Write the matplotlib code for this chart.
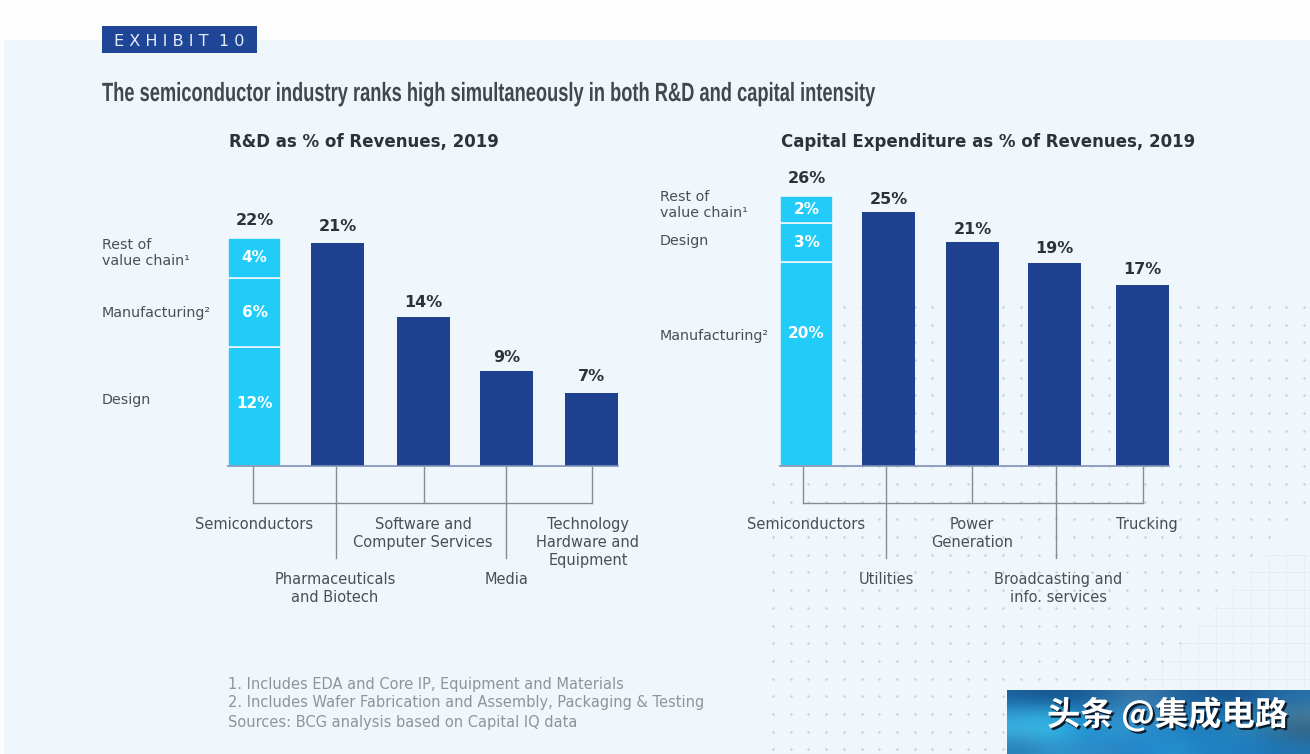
import matplotlib
matplotlib.use("Agg")
import matplotlib.pyplot as plt
import matplotlib.patheffects as pe
from matplotlib.colors import to_rgb
from matplotlib.transforms import Affine2D
import numpy as np

# data (bar heights are what is drawn, labels what is printed)
rd_stack_names = ["Design", "Manufacturing²", "Rest of\nvalue chain¹"]
rd_stack_values = [11.2, 6.5, 3.7]
rd_stack_labels = ["12%", "6%", "4%"]
rd_other_values = [21.0, 14.0, 8.9, 6.9]
rd_top_labels = ["22%", "21%", "14%", "9%", "7%"]
rd_categories = ["Semiconductors", "Pharmaceuticals\nand Biotech", "Software and\nComputer Services",
                 "Media", "Technology\nHardware and\nEquipment"]

capex_stack_names = ["Manufacturing²", "Design", "Rest of\nvalue chain¹"]
capex_stack_values = [20.1, 3.8, 2.7]
capex_stack_labels = ["20%", "3%", "2%"]
capex_other_values = [25.0, 22.0, 20.0, 17.8]
capex_top_labels = ["26%", "25%", "21%", "19%", "17%"]
capex_categories = ["Semiconductors", "Utilities", "Power\nGeneration",
                    "Broadcasting and\ninfo. services", "Trucking"]

footnotes = ["1. Includes EDA and Core IP, Equipment and Materials",
             "2. Includes Wafer Fabrication and Assembly, Packaging & Testing",
             "Sources: BCG analysis based on Capital IQ data"]

# colours
BACK = "#f0f7fc"
DARK = "#1f4290"
LIGHT = "#22ccf9"
LABEL = "#4b4f55"
BOLD = "#2e3236"
NOTE = "#8d949b"
BRACKET = "#868c93"

W, H = 1310, 754
fig = plt.figure(figsize=(W / 100, H / 100), dpi=100, facecolor="#fdfdfe")


class NarrowText(pe.AbstractPathEffect):
    # no condensed font is installed, so squeeze the title around its left edge
    def __init__(self, x0, factor):
        self.x0 = x0
        self.factor = factor

    def draw_path(self, renderer, gc, tpath, affine, rgbFace=None):
        squeeze = Affine2D().translate(-self.x0, 0).scale(self.factor, 1).translate(self.x0, 0)
        renderer.draw_path(gc, tpath, affine + squeeze, rgbFace)


# full figure axes in pixels, for the background and all the loose text
bg = fig.add_axes([0, 0, 1, 1])
bg.set_xlim(0, W)
bg.set_ylim(H, 0)
bg.axis("off")
bg.add_patch(plt.Rectangle((4, 40), W - 4, H - 40, color=BACK, lw=0, zorder=0))

# dotted background, fading into a fine grid at the lower right
dot_x = np.arange(773, W, 17.7)
dot_y = np.arange(307, H, 17.7)
xs, ys = [], []
for y in dot_y:
    for x in dot_x:
        if y < 480 and x < 840:
            continue
        if x + 0.9 * y > 1760:
            continue
        xs.append(x)
        ys.append(y)
bg.scatter(xs, ys, s=3.2, color="#c6d2da", lw=0, zorder=1)
for x in dot_x[dot_x > 1130]:
    bg.plot([x, x], [max(555, (1760 - x) / 0.9), 690], color="#e3edf3", lw=0.6, zorder=1)
for y in dot_y[dot_y > 550]:
    bg.plot([max(1130, 1760 - 0.9 * y), W], [y, y], color="#e3edf3", lw=0.6, zorder=1)

# exhibit tag and titles
bg.add_patch(plt.Rectangle((102, 26), 155, 27, color="#1f4596", lw=0, zorder=2))
bg.text(114, 41, "E X H I B I T  1 0", color="#e4ecf6", fontsize=11.6, va="center", zorder=3)
bg.text(102, 94, "The semiconductor industry ranks high simultaneously in both R&D and capital intensity",
        fontsize=19, weight="bold", color="#43474b", va="center", family="Liberation Sans",
        path_effects=[NarrowText(102, 0.693)])
bg.text(364, 142, "R&D as % of Revenues, 2019", fontsize=12, weight="bold", color=BOLD, ha="center", va="center")
bg.text(988, 142, "Capital Expenditure as % of Revenues, 2019", fontsize=12, weight="bold", color=BOLD,
        ha="center", va="center")


def draw_panel(first_x, scale, offsets, stack_values, stack_labels, label_shift, other_values, top_labels, gaps):
    # one axes per panel, baseline at y=466 px, one category step is 84 px
    step = 84
    ymax = 31
    ax = fig.add_axes([(first_x - step) / W, (H - 466) / H, step * 6 / W, ymax * scale / H])
    ax.set_xlim(-1, 5)
    ax.set_ylim(0, ymax)
    ax.axis("off")
    ax.patch.set_alpha(0)
    width = 53 / step
    pos = np.arange(5) + np.array(offsets)

    bottom = 0
    for val, lab, shift in zip(stack_values, stack_labels, label_shift):
        ax.bar(pos[0], val, width, bottom=bottom, color=LIGHT, edgecolor=BACK, lw=1.2, zorder=2)
        ax.text(pos[0], bottom + val / 2 + shift, lab, color="white", fontsize=11, weight="bold",
                ha="center", va="center", zorder=3)
        bottom += val
    ax.bar(pos[1:], other_values, width, color=DARK, zorder=2)
    ax.plot([pos[0] - width / 2, pos[4] + width / 2], [0, 0], color="#7d90b6", lw=1.2, zorder=3, clip_on=False)

    tops = [bottom] + list(other_values)
    for p, t, lab, gap in zip(pos, tops, top_labels, gaps):
        ax.annotate(lab, (p, t), xytext=(0, gap), textcoords="offset points", ha="center", va="center",
                    fontsize=11.5, weight="bold", color=BOLD)
    return ax


draw_panel(254.5, 10.64, [0, -0.01, 0.01, 0, 0.01], rd_stack_values, rd_stack_labels, [0.3, 0, 0],
           rd_other_values, rd_top_labels, [12.5, 11.5, 10.8, 10, 11.5])
draw_panel(806.5, 10.16, [0, -0.02, -0.02, -0.05, 0], capex_stack_values, capex_stack_labels, [3.0, 0, 0],
           capex_other_values, capex_top_labels, [12.2, 9.2, 9.4, 10.5, 11.5])


def bracket(tick_x, long_ticks):
    bg.plot([tick_x[0], tick_x[-1]], [503, 503], color=BRACKET, lw=1, zorder=2)
    for i, x in enumerate(tick_x):
        bg.plot([x, x], [467, 558 if i in long_ticks else 503], color=BRACKET, lw=1, zorder=2)


bracket([253, 336, 424, 506, 592], (1, 3))
bracket([803, 886, 972, 1056, 1143], (1, 3))

# category labels under the brackets
for lab, x, y in zip(rd_categories, [254, 335, 423, 507, 588], [524, 579, 524, 579, 524]):
    bg.text(x, y - 7, lab, fontsize=10.5, color=LABEL, ha="center", va="top", linespacing=1.25)
for lab, x, y in zip(capex_categories, [806, 886, 972, 1058, 1147], [524, 579, 524, 579, 524]):
    bg.text(x, y - 7, lab, fontsize=10.5, color=LABEL, ha="center", va="top", linespacing=1.25)

# names of the stacked parts
for lab, y in zip(rd_stack_names, [400, 313, 253]):
    bg.text(102, y, lab, fontsize=10.3, color=LABEL, va="center", linespacing=1.25)
for lab, y in zip(capex_stack_names, [336, 241, 205]):
    bg.text(660, y, lab, fontsize=10.3, color=LABEL, va="center", linespacing=1.25)

for line, y in zip(footnotes, [685, 703, 722]):
    bg.text(228, y, line, fontsize=10.55, color=NOTE, va="center")

# watermark box, blurred blue blotches
blotches = [["#1a5f9c", "#14528c", "#1a5a96", "#2b6ea6", "#3c79a8", "#2465a0", "#1a5a94", "#17548e", "#1c62a0", "#2470aa"],
            ["#2f9fd6", "#2cb0e2", "#1f83c4", "#2f8cc6", "#3b90c6", "#2580bd", "#1f74b2", "#2277ae", "#2c7aa8", "#4a7e9e"],
            ["#3fb4e2", "#35c0ea", "#1f93d2", "#2a9ad6", "#2f8ecb", "#1f84c6", "#1c7cbc", "#2888c0", "#2d7da6", "#33607f"],
            ["#2a7fb8", "#2f96cc", "#2c8ecb", "#2b86c4", "#1f86ca", "#2793d0", "#1f82c2", "#1f80c4", "#1c78ba", "#2275ae"]]
img = np.array([[to_rgb(c) for c in row] for row in blotches])
bg.imshow(img, extent=(1007, W, H, 690), interpolation="bicubic", aspect="auto", zorder=4)
bg.set_xlim(0, W)
bg.set_ylim(H, 0)
bg.text(1047, 715, "头条 @集成电路", fontsize=24, weight="bold", color="white", va="center", zorder=5,
        family=["Noto Sans CJK SC", "DejaVu Sans"],
        path_effects=[pe.withSimplePatchShadow(offset=(1.5, -1.5), shadow_rgbFace="#0c1c2c", alpha=1)])

fig.savefig("out.png", dpi=100, facecolor=fig.get_facecolor())
